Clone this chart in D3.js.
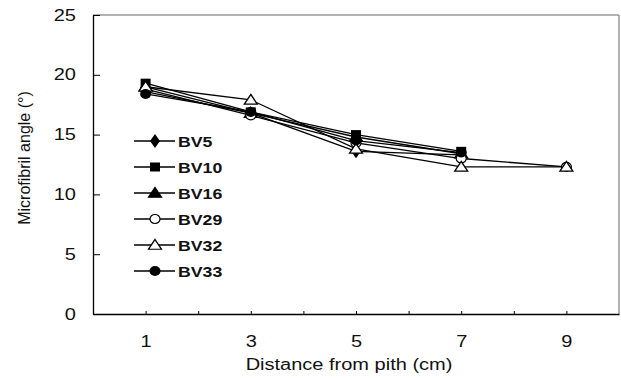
<!DOCTYPE html>
<html>
<head>
<meta charset="utf-8">
<script src="https://cdn.jsdelivr.net/npm/d3@7"></script>
<style>
  body { margin: 0; background: #fff; }
  text { font-family: "Liberation Sans", Arial, sans-serif; }
</style>
</head>
<body>
<div id="chart"></div>
<script>
// distance from pith (cm)
var distances = [1, 3, 5, 7, 9];
var seriesNames = ["BV5", "BV10", "BV16", "BV29", "BV32", "BV33"];
// microfibril angle per series (null = no point)
var bv5  = [18.6, 16.8, 13.6, 13.3, null];
var bv10 = [19.3, 16.9, 15.0, 13.6, null];
var bv16 = [19.0, 16.8, 14.8, 13.4, null];
var bv29 = [18.8, 16.6, 14.3, 13.0, 12.3];
var bv32 = [19.0, 17.9, 13.8, 12.3, 12.3];
var bv33 = [18.4, 16.9, 14.5, 13.5, null];
var xTickLabels = [1, 3, 5, 7, 9];
var yTickLabels = [0, 5, 10, 15, 20, 25];

var allValues = [bv5, bv10, bv16, bv29, bv32, bv33];
var markers = ["diamond", "square", "triangle", "circleOpen", "triangleOpen", "circle"];

var width = 621, height = 378;
var margin = {left: 93, top: 15, right: 2, bottom: 64};
var sx = 1.25; //the original text looks stretched sideways

var svg = d3.select('#chart').append('svg')
    .attr('width', width)
    .attr('height', height);

var x = d3.scaleLinear().domain([0, 10]).range([margin.left, width - margin.right]);
var y = d3.scaleLinear().domain([0, 25]).range([height - margin.bottom, margin.top]);

//frame: grey top/right
svg.append('line').attr('x1', x(0)).attr('x2', x(10)).attr('y1', y(25)).attr('y2', y(25))
    .attr('stroke', '#999').attr('stroke-width', 1.5);
svg.append('line').attr('x1', x(10)).attr('x2', x(10)).attr('y1', y(25)).attr('y2', y(0))
    .attr('stroke', '#999').attr('stroke-width', 1.5);

//x axis, ticks pointing inward
var xAxis = svg.append('g')
    .attr('transform', 'translate(0,' + y(0) + ')')
    .call(d3.axisBottom(x).tickValues(d3.range(1, 10)).tickSizeInner(-3).tickSizeOuter(0)
        .tickFormat(function(d) { return xTickLabels.indexOf(d) >= 0 ? d : ''; }));
xAxis.select('.domain').attr('stroke', '#000').attr('stroke-width', 1.3);
xAxis.selectAll('.tick line').attr('stroke', '#000');
xAxis.selectAll('.tick text').attr('y', 22).attr('font-size', 16).attr('fill', '#111')
    .attr('transform', 'scale(' + sx + ',1)');

//y axis
var yAxis = svg.append('g')
    .attr('transform', 'translate(' + x(0) + ',0)')
    .call(d3.axisLeft(y).tickValues(yTickLabels).tickSizeInner(-7).tickSizeOuter(0));
yAxis.select('.domain').attr('stroke', '#000').attr('stroke-width', 1.3);
yAxis.selectAll('.tick line').attr('stroke', '#000');
yAxis.selectAll('.tick text').attr('x', -17 / sx).attr('font-size', 16).attr('fill', '#111')
    .attr('transform', 'scale(' + sx + ',1)');

//axis titles
svg.append('text')
    .attr('transform', 'translate(349,370) scale(' + sx + ',1)')
    .attr('text-anchor', 'middle').attr('font-size', 16).attr('fill', '#111')
    .text('Distance from pith (cm)');
svg.append('text')
    .attr('transform', 'translate(30,158) rotate(-90)')
    .attr('text-anchor', 'middle').attr('font-size', 16).attr('fill', '#111')
    .text('Microfibril angle (°)');

function drawMarker(g, type, cx, cy) {
    if (type === 'diamond') {
        g.append('path').attr('d', d3.symbol(d3.symbolDiamond, 55)())
            .attr('transform', 'translate(' + cx + ',' + cy + ') scale(1.25,1)').attr('fill', '#000');
    } else if (type === 'square') {
        g.append('rect').attr('x', cx - 5).attr('y', cy - 4.5).attr('width', 10).attr('height', 9).attr('fill', '#000');
    } else if (type === 'triangle' || type === 'triangleOpen') {
        g.append('path').attr('d', d3.symbol(d3.symbolTriangle, 55)())
            .attr('transform', 'translate(' + cx + ',' + (cy + 1) + ') scale(1.15,1)')
            .attr('fill', type === 'triangle' ? '#000' : '#fff')
            .attr('stroke', '#000').attr('stroke-width', 1.2);
    } else if (type === 'circleOpen') {
        g.append('ellipse').attr('cx', cx).attr('cy', cy).attr('rx', 5).attr('ry', 4.5)
            .attr('fill', '#fff').attr('stroke', '#000').attr('stroke-width', 1.2);
    } else {
        g.append('ellipse').attr('cx', cx).attr('cy', cy).attr('rx', 5.5).attr('ry', 5).attr('fill', '#000');
    }
}

var line = d3.line()
    .defined(function(d) { return d.v !== null; })
    .x(function(d) { return x(d.x); })
    .y(function(d) { return y(d.v); });

var plot = svg.append('g');
allValues.forEach(function(vals, i) {
    var pts = distances.map(function(d, j) { return {x: d, v: vals[j]}; });
    plot.append('path').datum(pts)
        .attr('d', line)
        .attr('fill', 'none').attr('stroke', '#000').attr('stroke-width', 1.3);
});
allValues.forEach(function(vals, i) {
    var g = plot.append('g');
    distances.forEach(function(d, j) {
        if (vals[j] !== null) drawMarker(g, markers[i], x(d), y(vals[j]));
    });
});

//legend
var legend = svg.append('g');
seriesNames.forEach(function(name, i) {
    var ly = 141 + i * 26;
    legend.append('line').attr('x1', 134).attr('x2', 175).attr('y1', ly).attr('y2', ly)
        .attr('stroke', '#000').attr('stroke-width', 1.3);
    drawMarker(legend, markers[i], 155, ly);
    legend.append('text')
        .attr('transform', 'translate(178,' + (ly + 5.5) + ') scale(1.18,1)')
        .attr('font-size', 15).attr('font-weight', 'bold').attr('fill', '#111')
        .text(name);
});
</script>
</body>
</html>
